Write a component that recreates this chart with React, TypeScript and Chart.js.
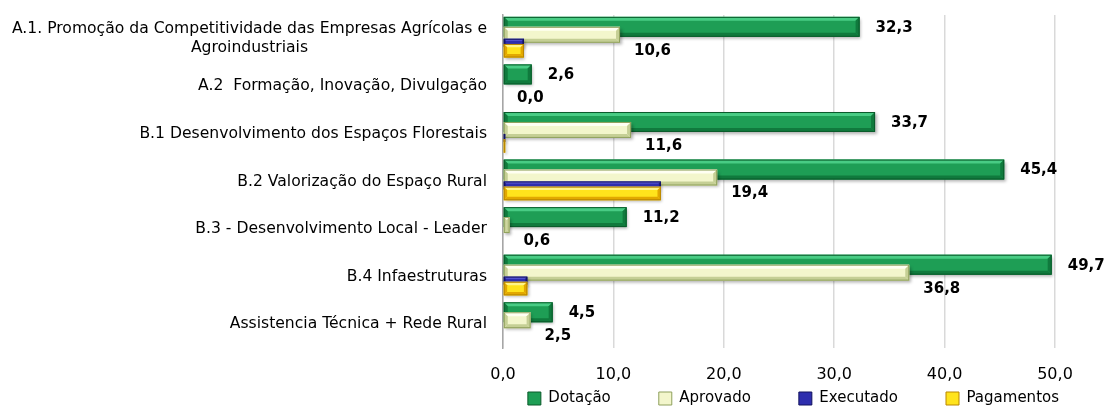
import React, { useEffect, useRef } from 'react';
import { Chart, registerables } from 'chart.js';

Chart.register(...registerables);

// ---------- data ----------
const categories: (string | string[])[] = [
  ['A.1. Promoção da Competitividade das Empresas Agrícolas e', 'Agroindustriais'],
  'A.2  Formação, Inovação, Divulgação',
  'B.1 Desenvolvimento dos Espaços Florestais',
  'B.2 Valorização do Espaço Rural',
  'B.3 - Desenvolvimento Local - Leader',
  'B.4 Infaestruturas',
  'Assistencia Técnica + Rede Rural',
];
const seriesNames = ['Dotação', 'Aprovado', 'Executado', 'Pagamentos'];
const dotacao = [32.3, 2.6, 33.7, 45.4, 11.2, 49.7, 4.5];
const aprovado = [10.6, 0.0, 11.6, 19.4, 0.6, 36.8, 2.5];
const executado = [1.9, 0, 0.2, 14.3, 0, 2.2, 0];
const pagamentos = [1.9, 0, 0.2, 14.3, 0, 2.2, 0];
const xTicks = [0, 10, 20, 30, 40, 50];
const labelledSeries = [0, 1]; // series whose values are printed

// ---------- style ----------
const FONT = "'DejaVu Sans', sans-serif";
const palette = [
  { main: '#1E9E55', light: '#48CC84', dark: '#107A3D', edge: '#0A5A2A' },
  { main: '#F3F6CC', light: '#FFFFF2', dark: '#C5CF95', edge: '#8FA05C' },
  { main: '#2E2EAE', light: '#5E5EDA', dark: '#1C1C80', edge: '#12125E' },
  { main: '#FFE31C', light: '#FFF58A', dark: '#E2A800', edge: '#B98600' },
];
const barPercentages = [2.5, 2.0, 1.0, 1.7];
const Y_AXIS_WIDTH = 503;
const Y_LABEL_GAP = 16;
const RIGHT_GAP = 52;
const X_AXIS_HEIGHT = 33;

const fmt = (v: number) => Number(v).toFixed(1).replace('.', ',');

function poly(ctx: CanvasRenderingContext2D, pts: number[][], color: string) {
  ctx.beginPath();
  ctx.moveTo(pts[0][0], pts[0][1]);
  for (let i = 1; i < pts.length; i++) ctx.lineTo(pts[i][0], pts[i][1]);
  ctx.closePath();
  ctx.fillStyle = color;
  ctx.fill();
}

function drawBevelBar(ctx: CanvasRenderingContext2D, left: number, right: number, top: number, bottom: number, pal: any) {
  const w = right - left;
  const h = bottom - top;
  if (w < 0.5) return;
  const b = Math.max(1, Math.min(h * 0.25, w / 2, 4));
  ctx.save();
  ctx.shadowColor = 'rgba(0,0,0,0.3)';
  ctx.shadowBlur = 3;
  ctx.shadowOffsetX = 1.5;
  ctx.shadowOffsetY = 2;
  ctx.fillStyle = pal.main;
  ctx.fillRect(left, top, w, h);
  ctx.restore();
  poly(ctx, [[left, top], [right, top], [right - b, top + b], [left + b, top + b]], pal.light);
  poly(ctx, [[left, bottom], [right, bottom], [right - b, bottom - b], [left + b, bottom - b]], pal.dark);
  poly(ctx, [[right, top], [right, bottom], [right - b, bottom - b], [right - b, top + b]], pal.dark);
  poly(ctx, [[left, top], [left, bottom], [left + b, bottom - b], [left + b, top + b]], pal.dark);
  ctx.strokeStyle = pal.edge;
  ctx.lineWidth = 1;
  ctx.strokeRect(left + 0.5, top + 0.5, Math.max(w - 1, 0), h - 1);
}

const bevelBars = {
  id: 'bevelBars',
  beforeDatasetsDraw(chart: any) {
    const ctx = chart.ctx as CanvasRenderingContext2D;
    chart.data.datasets.forEach((_ds: any, di: number) => {
      if (!chart.isDatasetVisible(di)) return;
      const meta = chart.getDatasetMeta(di);
      meta.data.forEach((el: any) => {
        const p = el.getProps(['x', 'y', 'base', 'height'], true);
        const left = Math.min(p.x, p.base);
        const right = Math.max(p.x, p.base);
        drawBevelBar(ctx, left, right, p.y - p.height / 2, p.y + p.height / 2, palette[di]);
      });
    });
    return false;
  },
};

const yLabels = {
  id: 'yLabels',
  afterDraw(chart: any) {
    const ys = chart.scales.y;
    const ctx = chart.ctx as CanvasRenderingContext2D;
    ctx.save();
    ctx.font = `15.6px ${FONT}`;
    ctx.fillStyle = '#000';
    ctx.textBaseline = 'middle';
    ctx.textAlign = 'center';
    const right = ys.right - Y_LABEL_GAP;
    const lh = 19;
    (chart.data.labels as any[]).forEach((lab, i) => {
      const lines: string[] = Array.isArray(lab) ? lab : [lab];
      const maxW = Math.max(...lines.map((l) => ctx.measureText(l).width));
      const cy = ys.getPixelForTick(i);
      lines.forEach((l, j) => {
        ctx.fillText(l, right - maxW / 2, cy + (j - (lines.length - 1) / 2) * lh);
      });
    });
    ctx.restore();
  },
};

const valueLabels = {
  id: 'valueLabels',
  afterDraw(chart: any) {
    const ctx = chart.ctx as CanvasRenderingContext2D;
    ctx.save();
    ctx.font = `bold 15px ${FONT}`;
    ctx.fillStyle = '#000';
    ctx.textBaseline = 'middle';
    ctx.textAlign = 'left';
    labelledSeries.forEach((di) => {
      const meta = chart.getDatasetMeta(di);
      const data = chart.data.datasets[di].data as number[];
      meta.data.forEach((el: any, i: number) => {
        const p = el.getProps(['x', 'y'], true);
        const dx = di === 0 ? 16 : 14;
        const dy = di === 0 ? 1 : 16;
        ctx.fillText(fmt(data[i]), p.x + dx, p.y + dy);
      });
    });
    ctx.restore();
  },
};

const legendShift = {
  id: 'legendShift',
  afterLayout(chart: any) {
    const lg = chart.legend;
    if (!lg) return;
    const pad = lg.options.labels.padding;
    lg.top = lg.top + 10 - pad;
  },
};

export default function App() {
  const canvasRef = useRef<HTMLCanvasElement | null>(null);

  useEffect(() => {
    if (!canvasRef.current) return;
    Chart.defaults.font.family = FONT;
    const seriesData = [dotacao, aprovado, executado, pagamentos];
    const chart = new Chart(canvasRef.current, {
      type: 'bar',
      data: {
        labels: categories as any,
        datasets: seriesNames.map((name, i) => ({
          label: name,
          data: seriesData[i],
          backgroundColor: palette[i].main,
          borderColor: palette[i].edge,
          borderWidth: 1,
          barPercentage: barPercentages[i],
          categoryPercentage: 0.67,
        })),
      },
      options: {
        indexAxis: 'y',
        animation: false,
        responsive: true,
        maintainAspectRatio: false,
        layout: { padding: { top: 15, left: 0, right: 0, bottom: 0 } },
        scales: {
          x: {
            min: xTicks[0],
            max: xTicks[xTicks.length - 1],
            ticks: {
              stepSize: xTicks[1] - xTicks[0],
              color: '#000',
              font: { size: 16 },
              padding: 17,
              callback: (v: any) => fmt(v),
            },
            grid: { color: '#D9D9D9', lineWidth: 1.5, drawTicks: false },
            border: { display: false },
            afterFit(scale: any) {
              scale.paddingRight = Math.max(scale.paddingRight, RIGHT_GAP);
              scale.height = X_AXIS_HEIGHT;
            },
          },
          y: {
            ticks: { display: false },
            grid: { display: false, drawTicks: false },
            border: { display: true, color: '#A6A6A6', width: 1.5 },
            afterFit(scale: any) {
              scale.width = Y_AXIS_WIDTH;
            },
          },
        },
        plugins: {
          legend: {
            position: 'bottom',
            align: 'end',
            maxHeight: 27,
            labels: {
              boxWidth: 13,
              boxHeight: 13,
              padding: 48,
              color: '#000',
              font: { size: 15 },
            },
          },
          tooltip: { enabled: false },
        },
      } as any,
      plugins: [bevelBars, yLabels, valueLabels, legendShift],
    });
    return () => chart.destroy();
  }, []);

  return (
    <div style={{ position: 'absolute', left: 0, top: 0, width: 1107, height: 408 }}>
      <canvas ref={canvasRef} />
    </div>
  );
}
